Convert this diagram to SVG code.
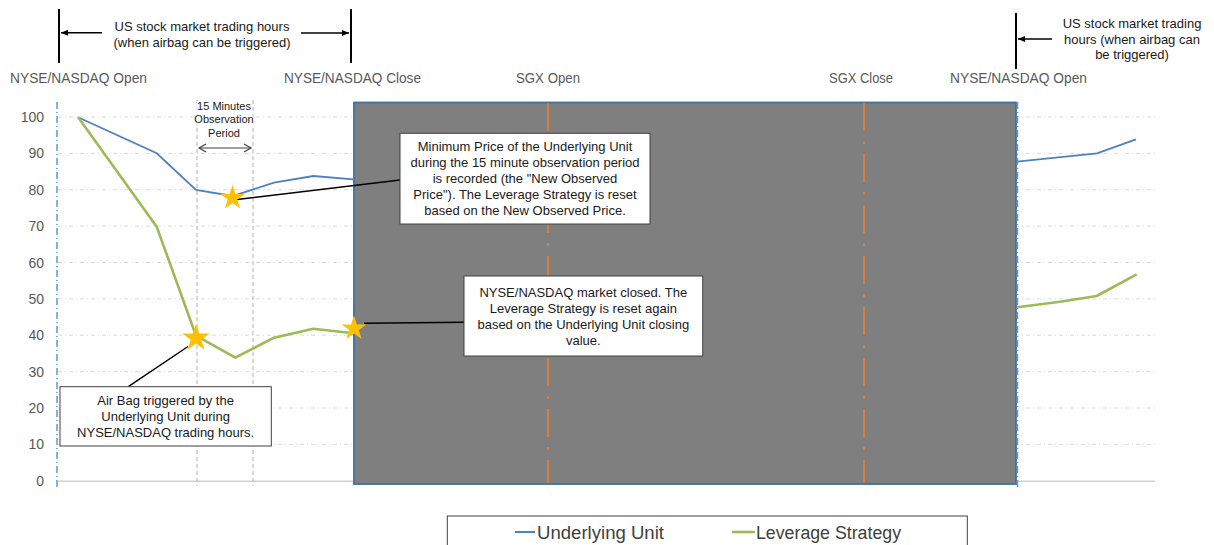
<svg xmlns="http://www.w3.org/2000/svg" xmlns:xlink="http://www.w3.org/1999/xlink" width="1214" height="545" viewBox="0 0 1214 545">
<style>
.lbl{font-family:"Liberation Sans",Arial,sans-serif;font-size:14px;fill:#595959}
.ax{font-family:"Liberation Sans",Arial,sans-serif;font-size:14px;fill:#595959;text-anchor:end}
.ann{font-family:"Liberation Sans",Arial,sans-serif;font-size:13px;fill:#1a1a1a;text-anchor:middle}
.top{font-family:"Liberation Sans",Arial,sans-serif;font-size:13px;fill:#1a1a1a;text-anchor:middle}
.small{font-family:"Liberation Sans",Arial,sans-serif;font-size:11px;fill:#1a1a1a;text-anchor:middle;stroke:#fff;stroke-width:3;paint-order:stroke}
.leg{font-family:"Liberation Sans",Arial,sans-serif;font-size:18px;fill:#404040}
.grid{stroke:#d9d9d9;stroke-width:1;stroke-dasharray:4 3 1 3}
.vdash{stroke:#bfbfbf;stroke-width:1.2;stroke-dasharray:4 3}
.bdash{stroke:#5b9bd5;stroke-width:1.5;stroke-dasharray:7 3 1 3}
.odash{stroke:#ed7d31;stroke-width:1.6;stroke-dasharray:28 10 3 10}
.box{fill:#fff;stroke:#404040;stroke-width:1}
.conn{stroke:#000;stroke-width:1.5;fill:none}
.blk{stroke:#000;stroke-width:2}
</style>
<defs>
<polygon id="star" points="0,-1 0.2245,-0.309 0.951,-0.309 0.363,0.118 0.588,0.809 0,0.382 -0.588,0.809 -0.363,0.118 -0.951,-0.309 -0.2245,-0.309" fill="#ffc000"/>
<marker id="ah" markerWidth="8" markerHeight="8" refX="7" refY="4" orient="auto" markerUnits="userSpaceOnUse"><path d="M0,1 L7,4 L0,7 Z" fill="#000"/></marker>
<marker id="oh" markerWidth="10" markerHeight="10" refX="8" refY="5" orient="auto-start-reverse" markerUnits="userSpaceOnUse"><path d="M1,1 L8,5 L1,9" fill="none" stroke="#404040" stroke-width="1.2"/></marker>
</defs>
<rect width="1214" height="545" fill="#fff"/>

<g id="gridlines">
<line class="grid" x1="58" y1="117" x2="1155" y2="117"/>
<line class="grid" x1="58" y1="153.4" x2="1155" y2="153.4"/>
<line class="grid" x1="58" y1="189.8" x2="1155" y2="189.8"/>
<line class="grid" x1="58" y1="226.1" x2="1155" y2="226.1"/>
<line class="grid" x1="58" y1="262.5" x2="1155" y2="262.5"/>
<line class="grid" x1="58" y1="298.9" x2="1155" y2="298.9"/>
<line class="grid" x1="58" y1="335.2" x2="1155" y2="335.2"/>
<line class="grid" x1="58" y1="371.6" x2="1155" y2="371.6"/>
<line class="grid" x1="58" y1="408" x2="1155" y2="408"/>
<line class="grid" x1="58" y1="444.3" x2="1155" y2="444.3"/>
<line x1="58" y1="481.2" x2="1155" y2="481.2" stroke="#d0d0d0" stroke-width="1.5"/>
</g>

<g id="y-axis-labels">
<text class="ax" x="44" y="122">100</text>
<text class="ax" x="44" y="158.4">90</text>
<text class="ax" x="44" y="194.8">80</text>
<text class="ax" x="44" y="231.1">70</text>
<text class="ax" x="44" y="267.5">60</text>
<text class="ax" x="44" y="303.9">50</text>
<text class="ax" x="44" y="340.2">40</text>
<text class="ax" x="44" y="376.6">30</text>
<text class="ax" x="44" y="413">20</text>
<text class="ax" x="44" y="449.3">10</text>
<text class="ax" x="44" y="486">0</text>
</g>

<g id="observation-lines">
<line class="vdash" x1="197" y1="100" x2="197" y2="486"/>
<line class="vdash" x1="253" y1="100" x2="253" y2="486"/>
</g>

<g id="closed-period">
<rect x="354" y="102.5" width="662" height="381.5" fill="#7f7f7f" stroke="#41719c" stroke-width="1.8"/>
<line class="odash" x1="548" y1="103" x2="548" y2="483"/>
<line class="odash" x1="864" y1="103" x2="864" y2="483"/>
</g>

<g id="axis-markers">
<line class="bdash" x1="57" y1="102" x2="57" y2="488"/>
<line class="bdash" x1="1017.5" y1="102" x2="1017.5" y2="488"/>
</g>

<g id="series">
<polyline fill="none" stroke="#4f81bd" stroke-width="1.8" points="78,117.3 156.7,153.3 196,190 232.7,196 274,182.7 313.3,176 353.3,179.3"/>
<polyline fill="none" stroke="#4f81bd" stroke-width="1.8" points="1017,161.7 1097,153.3 1136,139.3"/>
<polyline fill="none" stroke="#9bbb59" stroke-width="2.6" stroke-linejoin="round" points="78,117 156.7,226.7 196,335.7 235.3,357.7 274,337.7 313.3,328.7 353.3,333.3"/>
<polyline fill="none" stroke="#9bbb59" stroke-width="2.6" stroke-linejoin="round" points="1017,307.3 1060,301.7 1096.7,296 1136.7,274.3"/>
</g>

<g id="connectors">
<line class="conn" x1="237" y1="199.5" x2="400" y2="180"/>
<line class="conn" x1="364" y1="323.3" x2="464" y2="322.3"/>
<line class="conn" x1="128.3" y1="386.7" x2="188" y2="346.5"/>
</g>

<g id="stars">
<use xlink:href="#star" transform="translate(232.5,198) scale(13)"/>
<use xlink:href="#star" transform="translate(196,338) scale(14.5)"/>
<use xlink:href="#star" transform="translate(354,328.5) scale(13)"/>
</g>

<g id="observation-period">
<text class="small" x="224" y="109.5">15 Minutes</text>
<text class="small" x="224" y="123">Observation</text>
<text class="small" x="224" y="136.5">Period</text>
<line x1="199" y1="148" x2="251" y2="148" stroke="#404040" stroke-width="1.2" marker-start="url(#oh)" marker-end="url(#oh)"/>
</g>

<g id="note-min-price">
<rect class="box" x="400" y="133.3" width="250" height="90.7"/>
<text class="ann" x="525" y="151">Minimum Price of the Underlying Unit</text>
<text class="ann" x="525" y="167">during the 15 minute observation period</text>
<text class="ann" x="525" y="183">is recorded (the "New Observed</text>
<text class="ann" x="525" y="199">Price"). The Leverage Strategy is reset</text>
<text class="ann" x="525" y="214.5">based on the New Observed Price.</text>
</g>

<g id="note-market-closed">
<rect class="box" x="464" y="276" width="238.7" height="80"/>
<text class="ann" x="583.3" y="296.5">NYSE/NASDAQ market closed. The</text>
<text class="ann" x="583.3" y="312.5">Leverage Strategy is reset again</text>
<text class="ann" x="583.3" y="328.5">based on the Underlying Unit closing</text>
<text class="ann" x="583.3" y="344.5">value.</text>
</g>

<g id="note-airbag">
<rect class="box" x="60" y="386.7" width="211.3" height="59.3"/>
<text class="ann" x="165.6" y="405">Air Bag triggered by the</text>
<text class="ann" x="165.6" y="421">Underlying Unit during</text>
<text class="ann" x="165.6" y="437">NYSE/NASDAQ trading hours.</text>
</g>

<g id="trading-hours-left">
<line class="blk" x1="59" y1="9" x2="59" y2="63"/>
<line class="blk" x1="351" y1="9" x2="351" y2="63"/>
<line x1="102" y1="32.7" x2="61" y2="32.7" stroke="#000" stroke-width="1.5" marker-end="url(#ah)"/>
<line x1="301" y1="33" x2="349" y2="33" stroke="#000" stroke-width="1.5" marker-end="url(#ah)"/>
<text class="top" x="202" y="30.5">US stock market trading hours</text>
<text class="top" x="202" y="46.5">(when airbag can be triggered)</text>
</g>

<g id="trading-hours-right">
<line class="blk" x1="1016" y1="13" x2="1016" y2="69"/>
<line x1="1052" y1="39" x2="1018" y2="39" stroke="#000" stroke-width="1.5" marker-end="url(#ah)"/>
<text class="top" x="1132" y="28">US stock market trading</text>
<text class="top" x="1132" y="44">hours (when airbag can</text>
<text class="top" x="1132" y="59">be triggered)</text>
</g>

<g id="time-labels">
<text class="lbl" x="10" y="83" textLength="137" lengthAdjust="spacingAndGlyphs">NYSE/NASDAQ Open</text>
<text class="lbl" x="284" y="83" textLength="137" lengthAdjust="spacingAndGlyphs">NYSE/NASDAQ Close</text>
<text class="lbl" x="516" y="83" textLength="64" lengthAdjust="spacingAndGlyphs">SGX Open</text>
<text class="lbl" x="829" y="83" textLength="64" lengthAdjust="spacingAndGlyphs">SGX Close</text>
<text class="lbl" x="950" y="83" textLength="137" lengthAdjust="spacingAndGlyphs">NYSE/NASDAQ Open</text>
</g>

<g id="legend">
<rect x="447.3" y="516" width="520" height="40" fill="#fff" stroke="#404040" stroke-width="1"/>
<line x1="515" y1="532" x2="535" y2="532" stroke="#4f81bd" stroke-width="2"/>
<text class="leg" x="537" y="538.5" textLength="127" lengthAdjust="spacingAndGlyphs">Underlying Unit</text>
<line x1="732" y1="532" x2="755" y2="532" stroke="#9bbb59" stroke-width="2.6"/>
<text class="leg" x="756" y="538.5" textLength="145" lengthAdjust="spacingAndGlyphs">Leverage Strategy</text>
</g>
</svg>
